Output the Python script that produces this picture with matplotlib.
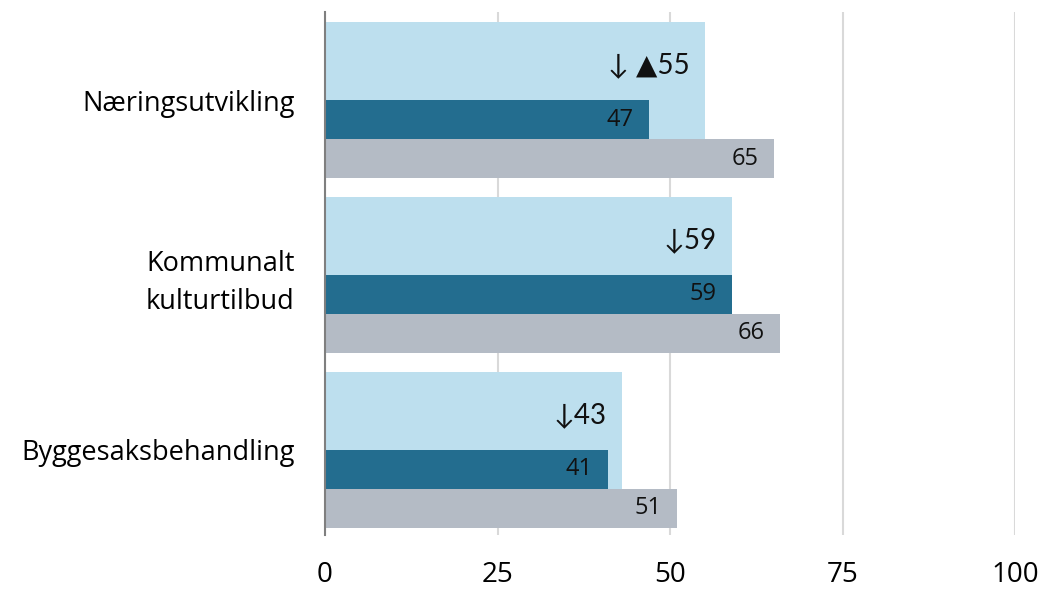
import matplotlib
matplotlib.use("Agg")
import matplotlib.pyplot as plt
import numpy as np

categories = ["Næringsutvikling", "Kommunalt\nkulturtilbud", "Byggesaksbehandling"]
light_values = [55, 59, 43]
light_prefix = ["↓ ▲", "↓", "↓"]
dark_values = [47, 59, 41]
grey_values = [65, 66, 51]
xticks = [0, 25, 50, 75, 100]

plt.rcParams['font.family'] = ['Open Sans', 'Noto Sans CJK JP', 'DejaVu Sans']

c_light = "#BDDFEE"
c_dark = "#236D8F"
c_grey = "#B4BBC5"

fig = plt.figure(figsize=(10.43, 5.89), dpi=100)
ax = fig.add_axes([325/1043, 1-535/589, (1015-325)/1043, (535-12)/589])

y = np.arange(len(categories))
h = 39/175

ax.barh(y - h/2, light_values, height=3*h, color=c_light, zorder=2)
ax.barh(y + h/2, dark_values, height=h, color=c_dark, zorder=3)
ax.barh(y + 3*h/2, grey_values, height=h, color=c_grey, zorder=3)

for i in range(len(categories)):
    ax.annotate(f"{light_prefix[i]}{light_values[i]}", (light_values[i], y[i] - h*0.9),
                xytext=(-11, 0), textcoords="offset points", ha="right", va="center",
                fontsize=20, color="#111111", zorder=4,
                family=['Lato', 'DejaVu Sans'])
    ax.annotate(f"{dark_values[i]}", (dark_values[i], y[i] + h/2),
                xytext=(-11, 0), textcoords="offset points", ha="right", va="center",
                fontsize=17, color="#111111", zorder=4)
    ax.annotate(f"{grey_values[i]}", (grey_values[i], y[i] + 3*h/2),
                xytext=(-11, 0), textcoords="offset points", ha="right", va="center",
                fontsize=17, color="#111111", zorder=4)

ax.set_xlim(0, 100)
ax.set_ylim(2.486, -0.503)
ax.set_xticks(xticks)
ax.set_xticklabels([str(t) for t in xticks], fontsize=20)
ax.set_yticks(y)
ax.set_yticklabels(categories, fontsize=19.5, linespacing=1.45)
ax.tick_params(axis='y', length=0, pad=22)
ax.tick_params(axis='x', length=0, pad=19)
ax.xaxis.grid(True, color="#D9D9D9", linewidth=1.5, zorder=0)
ax.set_axisbelow(True)
for s in ["top", "right", "bottom"]:
    ax.spines[s].set_visible(False)
ax.spines["left"].set_color("#7F7F7F")
ax.spines["left"].set_linewidth(1.5)
ax.spines["left"].set_zorder(5)

fig.savefig("out.png", dpi=100)
